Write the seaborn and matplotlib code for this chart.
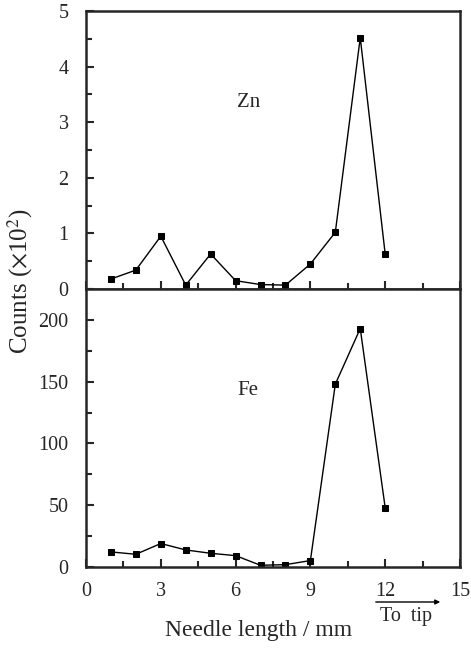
import matplotlib
matplotlib.use("Agg")
import matplotlib.pyplot as plt
import seaborn as sns
import pandas as pd
import numpy as np
from matplotlib.ticker import MultipleLocator

sns.set_style("ticks")
plt.rcParams['font.family'] = ['Liberation Serif', 'DejaVu Serif']
plt.rcParams['mathtext.fontset'] = 'stix'

positions = [1, 2, 3, 4, 5, 6, 7, 8, 9, 10, 11, 12]
zn_counts = [0.18, 0.34, 0.95, 0.07, 0.63, 0.15, 0.08, 0.07, 0.45, 1.02, 4.52, 0.63]
fe_counts = [12.2, 10.3, 19.0, 13.8, 11.1, 9.2, 1.4, 1.9, 5.2, 148, 193, 48]

df = pd.DataFrame({"x": positions, "Zn": zn_counts, "Fe": fe_counts})

fig = plt.figure(figsize=(4.71, 6.48), dpi=100)
ax1 = fig.add_axes([0.1826, 0.554, 0.794, 0.429])
ax2 = fig.add_axes([0.1826, 0.125, 0.794, 0.429], sharex=ax1)

for ax, col in [(ax1, "Zn"), (ax2, "Fe")]:
    sns.lineplot(data=df, x="x", y=col, ax=ax, color="black", linewidth=1.0,
                 marker="s", markersize=4.8, markeredgecolor="black", markerfacecolor="black")
    ax.set_xlabel("")
    ax.set_ylabel("")
    for s in ax.spines.values():
        s.set_linewidth(1.8)
        s.set_visible(True)
    ax.tick_params(axis="both", which="both", direction="in", labelsize=14.5,
                   top=False, right=False, width=1.5)
    ax.tick_params(which="major", length=6)
    ax.tick_params(which="minor", length=4)
    ax.tick_params(axis="y", pad=12.5)
    ax.xaxis.set_major_locator(MultipleLocator(3))
    ax.xaxis.set_minor_locator(MultipleLocator(1.5))

ax1.set_xlim(0, 15)
ax1.set_ylim(0, 5)
ax1.yaxis.set_major_locator(MultipleLocator(1))
ax1.yaxis.set_minor_locator(MultipleLocator(0.5))
ax1.tick_params(axis="x", labelbottom=False)

ax2.set_ylim(0, 225)
ax2.yaxis.set_major_locator(MultipleLocator(50))
ax2.yaxis.set_minor_locator(MultipleLocator(25))
ax2.tick_params(axis="x", pad=11)

ax1.text(6.07, 3.35, "Zn", fontsize=15, ha="left", va="center")
ax2.text(6.07, 143, "Fe", fontsize=15, ha="left", va="center")

fig.text(258.5/471, 1-636/648, "Needle length / mm", fontsize=17, ha="center", va="baseline")
fig.text(20/471, 1-281/648, r"Counts ($\times$10$^2$)", fontsize=18, rotation=90,
         ha="center", va="center")

fig.add_artist(matplotlib.patches.FancyArrowPatch(
    (373/471, 1-602/648), (443/471, 1-602/648), transform=fig.transFigure,
    arrowstyle="-|>", mutation_scale=7, color="black", linewidth=1.0))
fig.text(406/471, 1-621/648, "To  tip", fontsize=14.5, ha="center", va="baseline")

fig.savefig("out.png", dpi=100)
